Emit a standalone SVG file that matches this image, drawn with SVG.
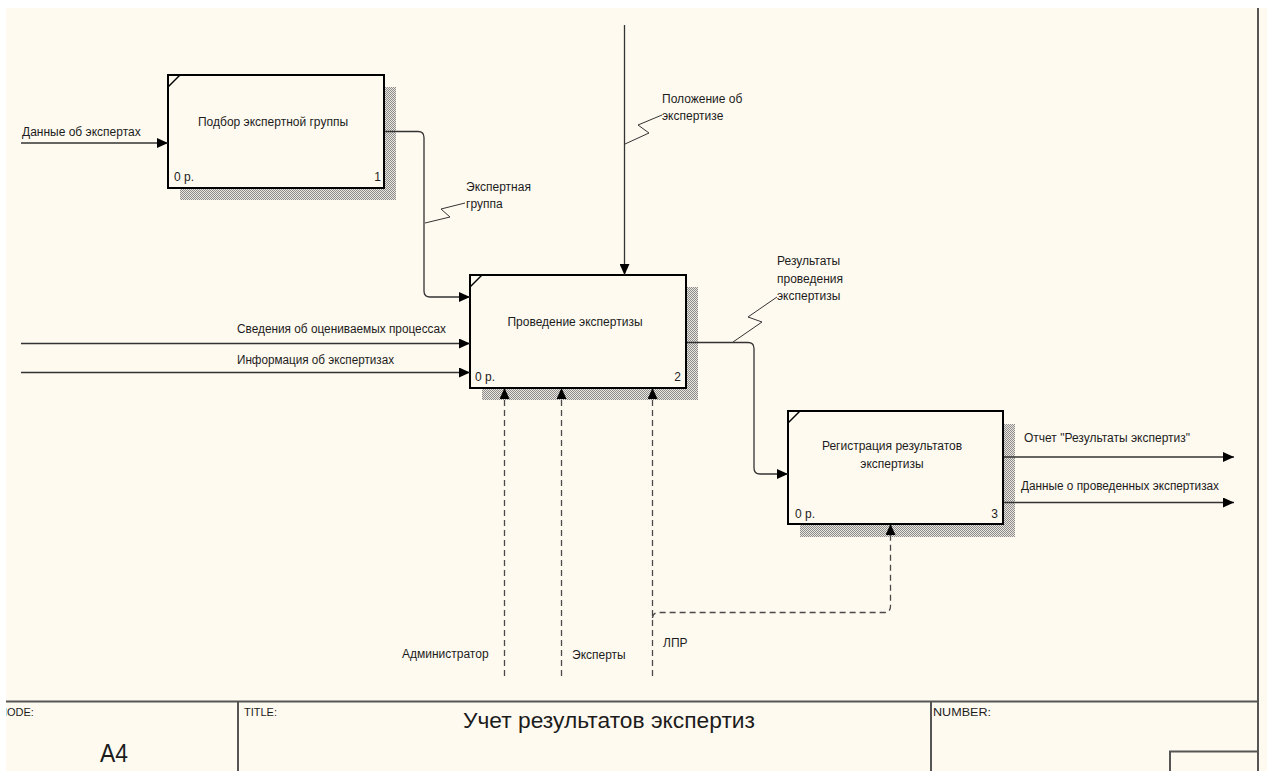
<svg xmlns="http://www.w3.org/2000/svg" width="1267" height="771" viewBox="0 0 1267 771">
<style>
text{font-family:"Liberation Sans",Arial,sans-serif;fill:#1c1c1c}
.lbl{font-size:12px}
.box{fill:#fffaf0;stroke:#000;stroke-width:2}
.sh{fill:url(#hatch)}
.ln{fill:none;stroke:#333;stroke-width:1.3}
.dash{fill:none;stroke:#4a4a4a;stroke-width:1.3;stroke-dasharray:6 4}
.sq{fill:none;stroke:#333;stroke-width:1}
.frm{fill:none;stroke:#555;stroke-width:2}
.ftxt{font-size:11px}
</style>
<defs>
<pattern id="hatch" width="2" height="2" patternUnits="userSpaceOnUse">
<rect width="2" height="2" fill="#ebe7de"/>
<rect width="1" height="1" fill="#8c8c8c"/>
<rect x="1" y="1" width="1" height="1" fill="#8c8c8c"/>
</pattern>
<marker id="arr" markerUnits="userSpaceOnUse" markerWidth="11" markerHeight="10" viewBox="0 0 11 10" refX="11" refY="5" orient="auto">
<path d="M0,0 L11,5 L0,10 z" fill="#000"/>
</marker>
</defs>
<rect x="0" y="0" width="1267" height="771" fill="#fffaf0"/>

<g id="frame">
<line class="frm" x1="1258" y1="8" x2="1258" y2="771"/>
<line class="frm" x1="6" y1="701.5" x2="1258" y2="701.5"/>
<line class="frm" x1="238" y1="701" x2="238" y2="771"/>
<line class="frm" x1="931" y1="701" x2="931" y2="771"/>
<path class="frm" d="M1170,771 V751.5 H1258"/>
<text class="ftxt" x="-1" y="716">NODE:</text>
<text class="ftxt" x="244" y="716">TITLE:</text>
<text class="ftxt" x="933" y="716" textLength="58" lengthAdjust="spacingAndGlyphs">NUMBER:</text>
<text x="100" y="762" font-size="26" textLength="28" lengthAdjust="spacingAndGlyphs">A4</text>
<text x="463" y="728" font-size="22" textLength="292" lengthAdjust="spacingAndGlyphs">Учет результатов экспертиз</text>
</g>

<g id="node1">
<rect class="sh" x="180" y="87" width="216" height="113"/>
<rect class="box" x="168" y="75" width="216" height="113"/>
<line x1="168" y1="87" x2="180" y2="75" stroke="#000" stroke-width="1.5"/>
<text class="lbl" x="273" y="126" text-anchor="middle">Подбор экспертной группы</text>
<text class="lbl" x="174" y="181">0 р.</text>
<text class="lbl" x="381" y="181" text-anchor="end">1</text>
</g>

<g id="node2">
<rect class="sh" x="482" y="287" width="216" height="113"/>
<rect class="box" x="470" y="275" width="216" height="113"/>
<line x1="470" y1="287" x2="482" y2="275" stroke="#000" stroke-width="1.5"/>
<text class="lbl" x="575" y="326" text-anchor="middle">Проведение экспертизы</text>
<text class="lbl" x="475" y="381">0 р.</text>
<text class="lbl" x="681" y="381" text-anchor="end">2</text>
</g>

<g id="node3">
<rect class="sh" x="800" y="424" width="215" height="113"/>
<rect class="box" x="788" y="411" width="215" height="113"/>
<line x1="788" y1="423" x2="800" y2="411" stroke="#000" stroke-width="1.5"/>
<text class="lbl" x="892" y="450" text-anchor="middle">Регистрация результатов</text>
<text class="lbl" x="892" y="468" text-anchor="middle">экспертизы</text>
<text class="lbl" x="795" y="518">0 р.</text>
<text class="lbl" x="998" y="518" text-anchor="end">3</text>
</g>

<g id="connectors">
<path class="ln" d="M21,143 H168" marker-end="url(#arr)"/>
<text class="lbl" x="22" y="136">Данные об экспертах</text>

<path class="ln" d="M385,131.5 H418 Q424,131.5 424,137.5 V291 Q424,297 430,297 H470" marker-end="url(#arr)"/>
<path class="sq" d="M425,223 L450,217 L441,209 L465,203"/>
<text class="lbl" x="466" y="191">Экспертная</text>
<text class="lbl" x="466" y="208">группа</text>

<path class="ln" d="M624.5,25 V275" marker-end="url(#arr)"/>
<path class="sq" d="M625,144 L649,133 L638,125 L662,115"/>
<text class="lbl" x="662" y="103">Положение об</text>
<text class="lbl" x="662" y="120">экспертизе</text>

<path class="ln" d="M21,343.5 H470" marker-end="url(#arr)"/>
<text class="lbl" x="237" y="333" textLength="209" lengthAdjust="spacingAndGlyphs">Сведения об оцениваемых процессах</text>
<path class="ln" d="M21,372.5 H470" marker-end="url(#arr)"/>
<text class="lbl" x="237" y="364" textLength="157" lengthAdjust="spacingAndGlyphs">Информация об экспертизах</text>

<path class="ln" d="M687,342.5 H748 Q754,342.5 754,348.5 V468 Q754,474 760,474 H788" marker-end="url(#arr)"/>
<path class="sq" d="M733,342 L762,322 L748,317 L777,297"/>
<text class="lbl" x="777" y="265">Результаты</text>
<text class="lbl" x="777" y="282.5">проведения</text>
<text class="lbl" x="777" y="300">экспертизы</text>

<path class="ln" d="M1004,457 H1234" marker-end="url(#arr)"/>
<text class="lbl" x="1024" y="442">Отчет "Результаты экспертиз"</text>
<path class="ln" d="M1004,502.5 H1234" marker-end="url(#arr)"/>
<text class="lbl" x="1021" y="490" textLength="198" lengthAdjust="spacingAndGlyphs">Данные о проведенных экспертизах</text>

<path class="dash" d="M504.5,676 V388" marker-end="url(#arr)"/>
<text class="lbl" x="402" y="658">Администратор</text>
<path class="dash" d="M561.5,676 V388" marker-end="url(#arr)"/>
<text class="lbl" x="572" y="659">Эксперты</text>
<path class="dash" d="M652.5,676 V388" marker-end="url(#arr)"/>
<text class="lbl" x="663" y="647">ЛПР</text>
<path class="dash" d="M652.5,618 Q653,612.5 659,612.5 H884 Q890.5,612.5 890.5,606 V524" marker-end="url(#arr)"/>
</g>

<rect x="0" y="0" width="1267" height="8" fill="#ffffff"/>
<rect x="0" y="0" width="6" height="771" fill="#ffffff"/>
</svg>
